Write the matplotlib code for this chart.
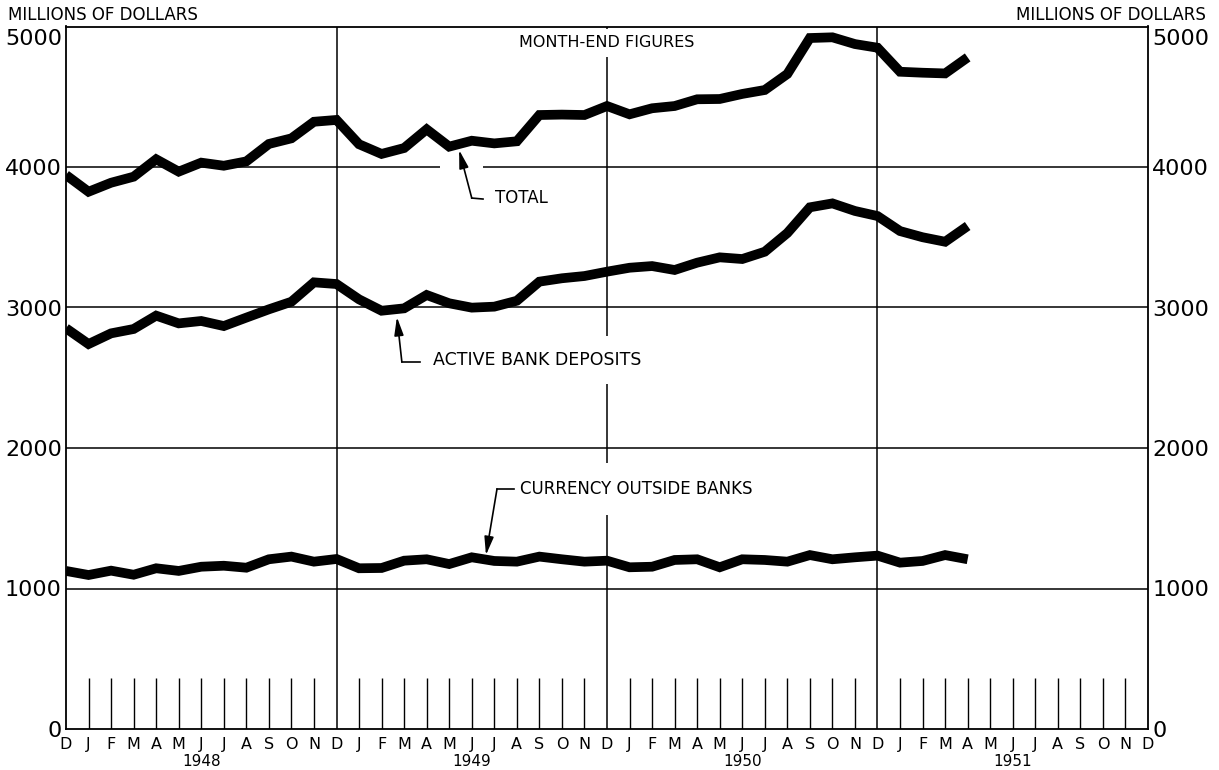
import matplotlib
matplotlib.use("Agg")
import matplotlib.pyplot as plt
import matplotlib.transforms as mtransforms

# ---------------- data (month-end, millions of dollars) ----------------
months = list("DJFMAMJJASOND" + "JFMAMJJASOND" * 3)   # Dec 1947 .. Dec 1951 (49 labels)
years = ["1948", "1949", "1950", "1951"]

total = [3943, 3824, 3888, 3931, 4055, 3967, 4031, 4009, 4040, 4164, 4204, 4322,
         4335, 4162, 4093, 4135, 4268, 4145, 4187, 4168, 4183, 4370, 4373, 4370,
         4434, 4375, 4418, 4434, 4482, 4484, 4520, 4548, 4662, 4918, 4923, 4875,
         4849, 4678, 4671, 4666, 4780]
active = [2852, 2740, 2816, 2847, 2942, 2887, 2904, 2868, 2928, 2987, 3041, 3179,
          3167, 3058, 2977, 2994, 3089, 3030, 2999, 3006, 3048, 3184, 3208, 3224,
          3255, 3283, 3295, 3267, 3319, 3357, 3345, 3397, 3530, 3713, 3741, 3687,
          3651, 3544, 3500, 3468, 3580]
currency = [1125, 1096, 1127, 1098, 1144, 1125, 1155, 1162, 1148, 1208, 1227, 1191,
            1210, 1144, 1146, 1198, 1208, 1174, 1222, 1196, 1191, 1227, 1208, 1191,
            1198, 1151, 1155, 1203, 1208, 1151, 1208, 1203, 1191, 1238, 1208, 1222,
            1234, 1184, 1196, 1238, 1208]

y_ticks = [0, 1000, 2000, 3000, 4000, 5000]

# ---------------- figure ----------------
fig = plt.figure(figsize=(12.19, 7.70), dpi=100)
ax = fig.add_axes([66 / 1219, 1 - 729 / 770, (1148 - 66) / 1219, (729 - 26.5) / 770])
ax.set_xlim(0, len(months) - 1)
ax.set_ylim(0, 5000)

gl = dict(color="black", linewidth=1.1, zorder=1)
for sp in ax.spines.values():
    sp.set_linewidth(1.3)

# horizontal grid lines (4000 line is broken near the TOTAL pointer)
for v in y_ticks[1:-1]:
    if v == 4000:
        ax.hlines(v, 0, 16.6, **gl)
        ax.hlines(v, 18.5, len(months) - 1, **gl)
    else:
        ax.axhline(v, **gl)

# December (year) lines
for i in range(12, len(months) - 1, 12):
    ax.axvline(i, **gl)

# month ticks
month_idx = [i for i in range(1, len(months) - 1) if i % 12 != 0]
ax.vlines(month_idx, 0, 360, color="black", linewidth=1.0, zorder=1)

# ---------------- series ----------------
xs = list(range(len(total)))
for s in (total, active, currency):
    ax.plot(xs, s, color="black", linewidth=7, solid_joinstyle="miter",
            solid_capstyle="butt", zorder=3)

# ---------------- axes labels ----------------
ax.set_xticks(range(len(months)))
ax.set_xticklabels(months, fontsize=11.5)
ax.set_yticks(y_ticks)
ax.set_yticklabels([str(v) if v != 5000 else "" for v in y_ticks], fontsize=16)
ax.tick_params(axis="both", length=0)
ax.tick_params(axis="y", pad=3, labelright=True)
ax.tick_params(axis="x", pad=6)

# top labels sit a little below the 5000 line to clear the heading
for xf, ha, dx in ((0, "right", -3), (1, "left", 3)):
    ax.annotate(str(y_ticks[-1]), xy=(xf, y_ticks[-1]), xycoords=("axes fraction", "data"),
                xytext=(dx, -9), textcoords="offset points", ha=ha, va="center",
                fontsize=16)

trans = mtransforms.blended_transform_factory(ax.transData, fig.transFigure)
for k, yr in enumerate(years):
    ax.text(12 * k + 6, 1 - 762 / 770, yr, transform=trans, ha="center",
            va="center", fontsize=11)

fig.text(8 / 1219, 1 - 15 / 770, "MILLIONS OF DOLLARS", ha="left", va="center",
         fontsize=12)
fig.text(1206 / 1219, 1 - 15 / 770, "MILLIONS OF DOLLARS", ha="right", va="center",
         fontsize=12)

wb = dict(facecolor="white", edgecolor="none")
ax.text(24, 4883, "MONTH-END FIGURES", ha="center", va="center", fontsize=11.5,
        bbox=dict(pad=5, **wb), zorder=4)

arrow = dict(arrowstyle="-|>,head_length=1.1,head_width=0.28", color="black",
             lw=1.2, shrinkA=0, shrinkB=0)

# TOTAL pointer
ax.text(19.03, 3779, "TOTAL", ha="left", va="center", fontsize=12, zorder=4)
ax.plot([18.5, 18.0], [3772, 3779], color="black", lw=1.2, zorder=4)
ax.annotate("", xy=(17.44, 4121), xytext=(18.0, 3779), arrowprops=arrow, zorder=4)

# ACTIVE BANK DEPOSITS pointer
ax.text(16.28, 2626, "ACTIVE BANK DEPOSITS", ha="left", va="center", fontsize=12.5,
        bbox=dict(pad=11, **wb), zorder=4)
ax.plot([15.7, 14.9], [2612, 2612], color="black", lw=1.2, zorder=5)
ax.annotate("", xy=(14.68, 2932), xytext=(14.9, 2612), arrowprops=arrow, zorder=5)

# CURRENCY OUTSIDE BANKS pointer
ax.text(20.14, 1708, "CURRENCY OUTSIDE BANKS", ha="left", va="center", fontsize=12,
        bbox=dict(pad=12, **wb), zorder=4)
ax.plot([19.88, 19.12], [1708, 1708], color="black", lw=1.2, zorder=5)
ax.annotate("", xy=(18.63, 1238), xytext=(19.12, 1708), arrowprops=arrow, zorder=5)

fig.savefig("out.png", dpi=100)
